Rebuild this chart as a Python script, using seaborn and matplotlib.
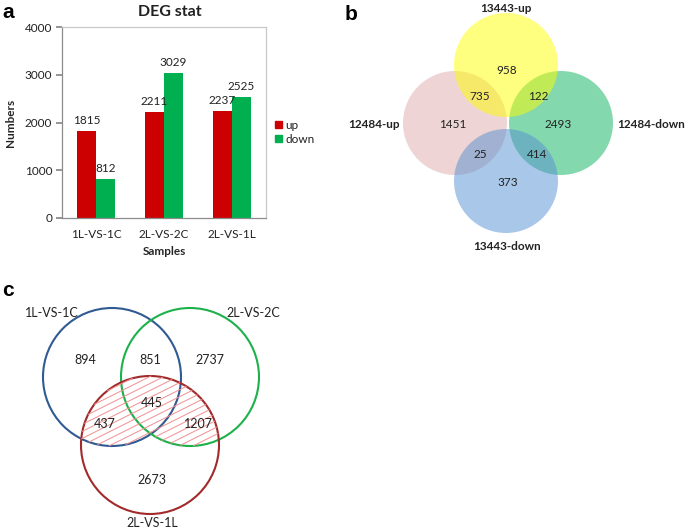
import matplotlib.pyplot as plt
import matplotlib.patches as mpatches
import numpy as np
import pandas as pd
import seaborn as sns

# data
samples = ["1L-VS-1C", "2L-VS-2C", "2L-VS-1L"]
up_counts = [1815, 2211, 2237]
down_counts = [812, 3029, 2525]

venn4_sets = ["13443-up", "12484-up", "12484-down", "13443-down"]
venn4_counts = [958, 735, 122, 1451, 2493, 25, 414, 373]

venn3_sets = ["1L-VS-1C", "2L-VS-2C", "2L-VS-1L"]
venn3_counts = [894, 851, 2737, 445, 437, 1207, 2673]

sns.set_theme(style="white")
plt.rcParams["font.family"] = ["Lato", "DejaVu Sans"]
plt.rcParams["text.color"] = "#222222"

W, H = 685, 530
fig = plt.figure(figsize=(W / 100, H / 100), dpi=100)
fig.patch.set_facecolor("white")

# overlay axes in pixel coordinates for the venn panels and panel letters
ov = fig.add_axes([0, 0, 1, 1])
ov.set_xlim(0, W)
ov.set_ylim(H, 0)
ov.axis("off")

for letter, (lx, ly) in zip("abc", [(8, 13), (351, 14), (8, 290)]):
    ov.text(lx, ly, letter, fontsize=15, fontweight="bold", ha="center",
            va="center", family="Liberation Sans", color="black")

# ---------------- panel a: bar chart ----------------
df = pd.DataFrame({
    "Samples": samples * 2,
    "Numbers": up_counts + down_counts,
    "dir": ["up"] * len(samples) + ["down"] * len(samples),
})
ax = fig.add_axes([62 / W, 1 - 218 / H, 204 / W, (218 - 27) / H])
sns.barplot(data=df, x="Samples", y="Numbers", hue="dir",
            palette={"up": "#CC0000", "down": "#00B050"},
            width=0.56, saturation=1, linewidth=0, ax=ax)
for cont in ax.containers:
    ax.bar_label(cont, padding=4, fontsize=8.5, color="#222222")
ax.set_ylim(0, 4000)
ax.set_yticks([0, 1000, 2000, 3000, 4000])
ax.set_xlim(-0.5, 2.5)
ax.set_xticks([0, 1, 2])
ax.set_xticklabels(samples, fontsize=8.5)
ax.tick_params(axis="x", length=0, pad=8, labelcolor="#222222")
ax.set_xticks([-0.5, 0.5, 1.5, 2.5], minor=True)
ax.tick_params(axis="x", which="minor", length=4, color="#888888", direction="out")
ax.tick_params(axis="y", labelsize=8.5, length=4, color="#888888",
               direction="out", left=True, pad=3, labelcolor="#222222")
ax.set_xlabel("Samples", fontsize=8.5, fontweight="bold", labelpad=4)
ax.set_ylabel("Numbers", fontsize=8.5, fontweight="bold", labelpad=6)
for side in ["top", "right"]:
    ax.spines[side].set_color("#C8C8C8")
for side in ["left", "bottom"]:
    ax.spines[side].set_color("#8C8C8C")
for sp in ax.spines.values():
    sp.set_linewidth(0.9)
ax.grid(False)
handles = [mpatches.Patch(color="#CC0000", label="up"),
           mpatches.Patch(color="#00B050", label="down")]
ax.legend(handles=handles, loc="center left", bbox_to_anchor=(1.02, 0.45),
          frameon=False, fontsize=8.5, handlelength=0.6, handleheight=0.6,
          handletextpad=0.3, labelspacing=0.25, borderaxespad=0)
fig.text(170 / W, 1 - 12 / H, "DEG stat", fontsize=11.5, fontweight="bold",
         ha="center", va="center")

# ---------------- panel b: four-set venn ----------------
r4 = 52
centers4 = [(506, 65), (455, 123), (561, 123), (506, 181)]
colors4 = ["#FFFF00", "#DFABAB", "#0BB25C", "#5590D2"]
draw_order = [1, 2, 3, 0]
for i in draw_order:
    ov.add_patch(mpatches.Circle(centers4[i], r4, facecolor=colors4[i],
                                 edgecolor="none", alpha=0.5))
label_pos4 = [(506, 8, "center"), (400, 125, "right"), (617, 125, "left"),
              (507, 246, "center")]
for name, (x, y, ha) in zip(venn4_sets, label_pos4):
    ov.text(x, y, name, fontsize=8.5, fontweight="bold", ha=ha, va="center")
count_pos4 = [(507, 71), (480, 96), (538, 96), (453, 125), (558, 125),
              (480, 154), (537, 154), (508, 182)]
for n, (x, y) in zip(venn4_counts, count_pos4):
    ov.text(x, y, str(n), fontsize=8.5, ha="center", va="center")

# ---------------- panel c: three-set venn ----------------
r3 = 69
centers3 = [(112, 377), (190, 377), (150, 445)]
edges3 = ["#2F5A92", "#1DB14B", "#A12A2A"]


def inside(px, py, c):
    return (px - c[0]) ** 2 + (py - c[1]) ** 2 <= r3 ** 2


# hatch: red circle intersected with union of the other two
slope, step = 0.5, 7
cx, cy = centers3[2]
xs = np.linspace(cx - r3, cx + r3, 800)
for b in np.arange(cy - r3 + slope * (cx - r3), cy + r3 + slope * (cx + r3), step):
    ys = b - slope * xs
    m = inside(xs, ys, centers3[2]) & (inside(xs, ys, centers3[0]) | inside(xs, ys, centers3[1]))
    ov.plot(xs, np.where(m, ys, np.nan), color="#F29090", lw=0.7)

for c, ec in zip(centers3, edges3):
    ov.add_patch(mpatches.Circle(c, r3, facecolor="none", edgecolor=ec, lw=1.5))

label_pos3 = [(52, 313), (253, 313), (152, 523)]
for name, (x, y) in zip(venn3_sets, label_pos3):
    ov.text(x, y, name, fontsize=9, ha="center", va="center")
count_pos3 = [(85, 360), (150, 360), (210, 360), (152, 403), (105, 424),
              (198, 424), (152, 480)]
for n, (x, y) in zip(venn3_counts, count_pos3):
    ov.text(x, y, str(n), fontsize=9, ha="center", va="center")

fig.savefig("out.png", dpi=100)
